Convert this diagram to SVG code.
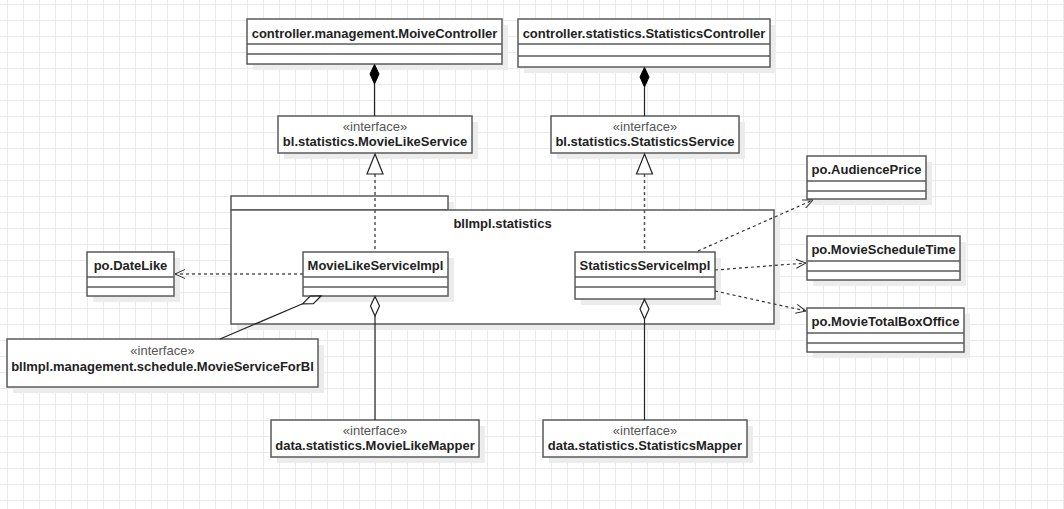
<svg xmlns="http://www.w3.org/2000/svg" width="1064" height="509" viewBox="0 0 1064 509">
<defs>
<pattern id="grid" patternUnits="userSpaceOnUse" x="0" y="0" width="16" height="16">
<path d="M7.5 0V16M0 4.5H16" stroke="#ebebeb" stroke-width="1" fill="none"/>
</pattern>
<marker id="open" viewBox="0 0 10 10" refX="10" refY="5" markerWidth="10" markerHeight="10" markerUnits="userSpaceOnUse" orient="auto">
<path d="M0 0.5L10 5L0 9.5" fill="none" stroke="#333" stroke-width="1"/>
</marker>
</defs>
<style>
.box{fill:#fff;stroke:#5a5a5a;stroke-width:1.5}
.sh{fill:#ececec}
.div{stroke:#5a5a5a;stroke-width:1.5}
.nm{font-family:"Liberation Sans",Arial,sans-serif;font-size:13px;font-weight:bold;fill:#222;text-anchor:middle}
.st{font-family:"Liberation Sans",Arial,sans-serif;font-size:13px;fill:#555;text-anchor:middle}
.solid{stroke:#222;stroke-width:1.2;fill:none}
.dash{stroke:#333;stroke-width:1.2;fill:none;stroke-dasharray:3 3}
.dot{stroke:#555;stroke-width:1.5;fill:none;stroke-dasharray:3 3}
.fd{fill:#000;stroke:#000;stroke-width:1}
.hd{fill:#fff;stroke:#222;stroke-width:1.2}
.tri{fill:#fff;stroke:#222;stroke-width:1.2}
</style>
<rect width="1064" height="509" fill="#fff"/>
<rect width="1064" height="509" fill="url(#grid)"/>

<g id="pkg-bllmpl-statistics">
<rect class="sh" x="237" y="202" width="217" height="14"/>
<rect class="sh" x="237" y="216" width="543" height="114"/>
<rect class="box" x="231" y="196" width="217" height="14"/>
<rect class="box" x="231" y="210" width="543" height="114"/>
<text class="nm" x="502.5" y="227.5">bllmpl.statistics</text>
</g>

<g id="MoiveController">
<rect class="sh" x="253" y="25" width="255" height="45"/>
<rect class="box" x="247" y="19" width="255" height="45"/>
<line class="div" x1="247" y1="44" x2="502" y2="44"/>
<line class="div" x1="247" y1="54" x2="502" y2="54"/>
<text class="nm" x="374.5" y="37.5">controller.management.MoiveController</text>
</g>

<g id="StatisticsController">
<rect class="sh" x="524" y="25" width="252" height="48"/>
<rect class="box" x="518" y="19" width="252" height="48"/>
<line class="div" x1="518" y1="44" x2="770" y2="44"/>
<line class="div" x1="518" y1="56" x2="770" y2="56"/>
<text class="nm" x="644" y="37.5">controller.statistics.StatisticsController</text>
</g>

<g id="MovieLikeService">
<rect class="sh" x="284" y="122" width="194" height="37"/>
<rect class="box" x="278" y="116" width="194" height="37"/>
<text class="st" x="375" y="131">«interface»</text>
<text class="nm" x="375" y="146">bl.statistics.MovieLikeService</text>
</g>

<g id="StatisticsService">
<rect class="sh" x="557" y="122" width="188" height="37"/>
<rect class="box" x="551" y="116" width="188" height="37"/>
<text class="st" x="645" y="131">«interface»</text>
<text class="nm" x="645" y="146">bl.statistics.StatisticsService</text>
</g>

<g id="MovieLikeServiceImpl">
<rect class="sh" x="309" y="258" width="145" height="44"/>
<rect class="box" x="303" y="252" width="145" height="44"/>
<line class="div" x1="303" y1="277" x2="448" y2="277"/>
<line class="div" x1="303" y1="287" x2="448" y2="287"/>
<text class="nm" x="375.5" y="269.5">MovieLikeServiceImpl</text>
</g>

<g id="StatisticsServiceImpl">
<rect class="sh" x="581" y="258" width="140" height="47"/>
<rect class="box" x="575" y="252" width="140" height="47"/>
<line class="div" x1="575" y1="277" x2="715" y2="277"/>
<line class="div" x1="575" y1="287" x2="715" y2="287"/>
<text class="nm" x="645" y="269.5">StatisticsServiceImpl</text>
</g>

<g id="DateLike">
<rect class="sh" x="93" y="258" width="87" height="44"/>
<rect class="box" x="87" y="252" width="87" height="44"/>
<line class="div" x1="87" y1="277" x2="174" y2="277"/>
<line class="div" x1="87" y1="287" x2="174" y2="287"/>
<text class="nm" x="130.5" y="269.5">po.DateLike</text>
</g>

<g id="AudiencePrice">
<rect class="sh" x="813" y="162" width="119" height="43"/>
<rect class="box" x="807" y="156" width="119" height="43"/>
<line class="div" x1="807" y1="181" x2="926" y2="181"/>
<line class="div" x1="807" y1="191" x2="926" y2="191"/>
<text class="nm" x="866.5" y="173.5">po.AudiencePrice</text>
</g>

<g id="MovieScheduleTime">
<rect class="sh" x="813" y="242" width="153" height="44"/>
<rect class="box" x="807" y="236" width="153" height="44"/>
<line class="div" x1="807" y1="261" x2="960" y2="261"/>
<line class="div" x1="807" y1="271" x2="960" y2="271"/>
<text class="nm" x="883.5" y="253.5">po.MovieScheduleTime</text>
</g>

<g id="MovieTotalBoxOffice">
<rect class="sh" x="813" y="314" width="157" height="44"/>
<rect class="box" x="807" y="308" width="157" height="44"/>
<line class="div" x1="807" y1="333" x2="964" y2="333"/>
<line class="div" x1="807" y1="343" x2="964" y2="343"/>
<text class="nm" x="885.5" y="325.5">po.MovieTotalBoxOffice</text>
</g>

<g id="MovieServiceForBl">
<rect class="sh" x="13" y="345" width="311" height="48"/>
<rect class="box" x="7" y="339" width="311" height="48"/>
<text class="st" x="162.5" y="354.5">«interface»</text>
<text class="nm" x="162.5" y="371">bllmpl.management.schedule.MovieServiceForBl</text>
</g>

<g id="MovieLikeMapper">
<rect class="sh" x="277" y="426" width="208" height="37"/>
<rect class="box" x="271" y="420" width="208" height="37"/>
<text class="st" x="375" y="435">«interface»</text>
<text class="nm" x="375" y="450">data.statistics.MovieLikeMapper</text>
</g>

<g id="StatisticsMapper">
<rect class="sh" x="549" y="426" width="204" height="37"/>
<rect class="box" x="543" y="420" width="204" height="37"/>
<text class="st" x="645" y="435">«interface»</text>
<text class="nm" x="645" y="450">data.statistics.StatisticsMapper</text>
</g>

<g id="connectors">
<!-- composition -->
<line class="solid" x1="374.5" y1="84" x2="374.5" y2="116"/>
<path class="fd" d="M374.5 64.5L379 74L374.5 84L370 74Z"/>
<line class="solid" x1="644.5" y1="87" x2="644.5" y2="116"/>
<path class="fd" d="M644.5 67.5L649 77L644.5 87L640 77Z"/>
<!-- realization -->
<line class="dot" x1="375" y1="174" x2="375" y2="252"/>
<path class="tri" d="M375 154L383 174L367 174Z"/>
<line class="dot" x1="644.5" y1="174" x2="644.5" y2="252"/>
<path class="tri" d="M644.5 154L652.5 174L636.5 174Z"/>
<!-- dependencies -->
<line class="dot" x1="303" y1="274" x2="175" y2="274" marker-end="url(#open)"/>
<line class="dash" x1="698" y1="251" x2="813" y2="200" marker-end="url(#open)"/>
<line class="dash" x1="715" y1="270" x2="806" y2="263" marker-end="url(#open)"/>
<line class="dash" x1="715" y1="291" x2="806" y2="311" marker-end="url(#open)"/>
<!-- aggregation -->
<line class="solid" x1="375" y1="316" x2="375" y2="420"/>
<path class="hd" d="M375 296.5L379.5 306L375 316L370.5 306Z"/>
<line class="solid" x1="644.5" y1="319" x2="644.5" y2="420"/>
<path class="hd" d="M644.5 299.5L649 309L644.5 319L640 309Z"/>
<line class="solid" x1="220" y1="339" x2="302.6" y2="303.8"/>
<path class="hd" d="M321 296L313.4 303.6L302.6 303.8L310.2 296.2Z"/>
</g>
</svg>
